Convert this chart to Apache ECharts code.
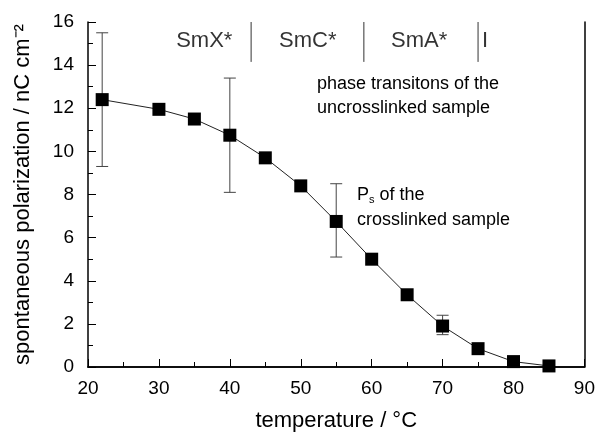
<!DOCTYPE html>
<html>
<head>
<meta charset="utf-8">
<script src="https://cdn.jsdelivr.net/npm/echarts@6/dist/echarts.min.js"></script>
<style>
html, body { margin: 0; padding: 0; background: #fff; }
#chart { width: 598px; height: 437px; }
</style>
</head>
<body>
<div id="chart"></div>
<script>
// measured points of the crosslinked sample
var temps = [22, 30, 35, 40, 45, 50, 55, 60, 65, 70, 75, 80, 85];
var polarization = [12.4, 11.95, 11.5, 10.75, 9.7, 8.4, 6.75, 5.0, 3.35, 1.9, 0.85, 0.25, 0.05];

// error bars [temperature, low, high]
var errTemps = [22, 40, 55, 70];
var errLow = [9.3, 8.1, 5.1, 1.5];
var errHigh = [15.5, 13.4, 8.5, 2.4];

// phase transitions of the uncrosslinked sample
var phaseBounds = [43, 58.9, 75];
var phaseNames = ['SmX*', 'SmC*', 'SmA*', 'I'];
var phaseLabelX = [36.4, 51, 66.7, 76];
var phaseLineBottom = 14.15;

var font = 'Liberation Sans, Arial, sans-serif';

var chart = echarts.init(document.getElementById('chart'));

var errData = errTemps.map(function (t, i) { return [t, errLow[i], errHigh[i]]; });

var option = {
  animation: false,
  grid: { left: 88, right: 11, top: 22, bottom: 69 },
  xAxis: [{
    type: 'value', min: 20, max: 90, interval: 10,
    name: 'temperature / °C', nameLocation: 'middle', nameGap: 43,
    nameTextStyle: { fontFamily: font, fontSize: 22, color: '#000' },
    axisLine: { lineStyle: { color: '#000', width: 1.5 } },
    axisTick: { inside: true, length: 8, lineStyle: { color: '#000' } },
    minorTick: { show: true, splitNumber: 2, length: 5, lineStyle: { color: '#000' } },
    axisLabel: { fontFamily: font, fontSize: 19, color: '#000', margin: 12 },
    splitLine: { show: false }
  }, {
    type: 'value', min: 20, max: 90, position: 'top',
    axisLine: { show: true, lineStyle: { color: '#000', width: 1.5 } },
    axisTick: { show: false }, axisLabel: { show: false }, splitLine: { show: false }
  }],
  yAxis: [{
    type: 'value', min: 0, max: 16, interval: 2,
    name: 'spontaneous polarization / nC cm⁻²', nameLocation: 'middle', nameGap: 54,
    nameTextStyle: { fontFamily: font, fontSize: 22, color: '#000' },
    axisLine: { show: true, lineStyle: { color: '#000', width: 1.5 } },
    axisTick: { inside: true, length: 8, lineStyle: { color: '#000' } },
    minorTick: { show: true, splitNumber: 2, length: 5, lineStyle: { color: '#000' } },
    axisLabel: { fontFamily: font, fontSize: 19, color: '#000', margin: 14 },
    splitLine: { show: false }
  }, {
    type: 'value', min: 0, max: 16, position: 'right',
    axisLine: { show: true, lineStyle: { color: '#000', width: 1.5 } },
    axisTick: { show: false }, axisLabel: { show: false }, splitLine: { show: false }
  }],
  series: [{
    type: 'custom',
    data: errData,
    z: 1,
    renderItem: function (params, api) {
      var x = api.value(0);
      var lo = api.coord([x, api.value(1)]);
      var hi = api.coord([x, api.value(2)]);
      var w = 6;
      var st = { stroke: '#444', lineWidth: 1 };
      return {
        type: 'group',
        children: [
          { type: 'line', shape: { x1: lo[0], y1: lo[1], x2: hi[0], y2: hi[1] }, style: st },
          { type: 'line', shape: { x1: lo[0] - w, y1: lo[1], x2: lo[0] + w, y2: lo[1] }, style: st },
          { type: 'line', shape: { x1: hi[0] - w, y1: hi[1], x2: hi[0] + w, y2: hi[1] }, style: st }
        ]
      };
    }
  }, {
    type: 'line',
    data: temps.map(function (t, i) { return [t, polarization[i]]; }),
    symbol: 'rect', symbolSize: 13,
    itemStyle: { color: '#000' },
    lineStyle: { color: '#222', width: 1 },
    z: 3
  }, {
    type: 'custom',
    data: phaseBounds.map(function (b) { return [b, phaseLineBottom]; }),
    renderItem: function (params, api) {
      var p = api.coord([api.value(0), api.value(1)]);
      var t = api.coord([api.value(0), 16]);
      return { type: 'line', shape: { x1: p[0], y1: p[1], x2: t[0], y2: t[1] }, style: { stroke: '#333', lineWidth: 1 } };
    }
  }, {
    type: 'scatter',
    data: phaseNames.map(function (n, i) { return { value: [phaseLabelX[i], 15.12], name: n }; }),
    symbolSize: 0,
    label: {
      show: true, position: 'inside', formatter: '{b}',
      fontFamily: font, fontSize: 22, color: '#000'
    }
  }],
  graphic: [{
    type: 'text', left: 317, top: 72,
    style: { text: 'phase transitons of the\nuncrosslinked sample', font: '18px ' + font, fill: '#000', lineHeight: 24 }
  }, {
    type: 'text', left: 357, top: 186,
    style: {
      text: '{a|P}{s|s}{a| of the}\n{a|crosslinked sample}',
      rich: {
        a: { font: '18px ' + font, fill: '#000', lineHeight: 25 },
        s: { font: '11px ' + font, fill: '#000', padding: [9, 0, 0, 0] }
      }
    }
  }]
};

chart.setOption(option);
</script>
</body>
</html>
